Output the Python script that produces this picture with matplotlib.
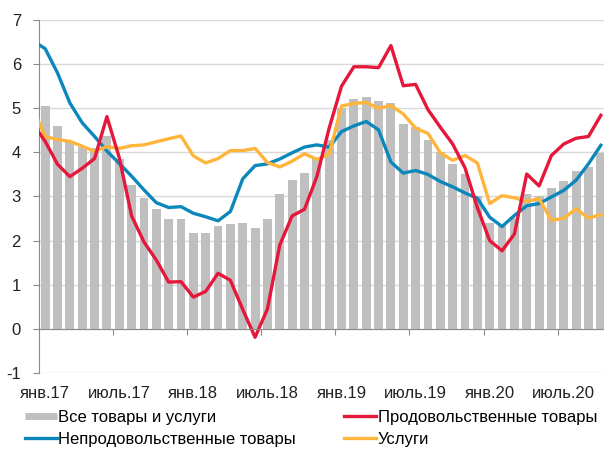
import matplotlib
matplotlib.use("Agg")
import matplotlib.pyplot as plt
import numpy as np
from matplotlib.lines import Line2D

plt.rcParams["font.family"] = ["Liberation Sans", "DejaVu Sans"]
plt.rcParams["axes.unicode_minus"] = False

# monthly categories, Jan 2017 .. Oct 2020
tick_labels = ["янв.17", "июль.17", "янв.18", "июль.18",
               "янв.19", "июль.19", "янв.20", "июль.20"]

# all goods and services (bars), Jan 2017 .. Oct 2020
all_cpi = [5.04, 4.59, 4.25, 4.12, 4.10, 4.36, 3.85, 3.27, 2.96, 2.71, 2.48, 2.49,
           2.17, 2.17, 2.34, 2.38, 2.40, 2.28, 2.49, 3.05, 3.38, 3.53, 3.84, 4.27,
           5.00, 5.22, 5.25, 5.16, 5.12, 4.65, 4.57, 4.29, 4.00, 3.74, 3.51, 3.02,
           2.40, 2.34, 2.52, 3.06, 3.02, 3.20, 3.36, 3.58, 3.66, 3.98]

# lines start one month earlier (Dec 2016), clipped at the axis edge
food = [4.65,
        4.25, 3.73, 3.45, 3.64, 3.86, 4.81, 3.88, 2.56, 1.97, 1.56, 1.06, 1.07,
        0.72, 0.85, 1.26, 1.10, 0.44, -0.19, 0.45, 1.90, 2.56, 2.71, 3.45, 4.55,
        5.50, 5.94, 5.94, 5.92, 6.42, 5.51, 5.54, 4.97, 4.57, 4.19, 3.65, 2.75,
        2.00, 1.77, 2.15, 3.51, 3.24, 3.93, 4.19, 4.32, 4.36, 4.84]
nonfood = [6.53,
           6.35, 5.80, 5.12, 4.67, 4.36, 4.03, 3.75, 3.46, 3.15, 2.86, 2.75, 2.77,
           2.62, 2.54, 2.45, 2.66, 3.40, 3.70, 3.74, 3.85, 3.99, 4.12, 4.17, 4.12,
           4.47, 4.60, 4.70, 4.51, 3.78, 3.53, 3.59, 3.50, 3.34, 3.22, 3.08, 2.96,
           2.53, 2.32, 2.57, 2.79, 2.84, 2.99, 3.14, 3.37, 3.74, 4.16]
services = [5.00,
            4.36, 4.29, 4.25, 4.14, 4.02, 4.13, 4.09, 4.15, 4.17, 4.24, 4.31, 4.37,
            3.92, 3.76, 3.86, 4.04, 4.04, 4.09, 3.77, 3.67, 3.80, 3.97, 3.84, 3.96,
            5.05, 5.11, 5.13, 5.00, 5.06, 4.87, 4.55, 4.43, 3.99, 3.82, 3.93, 3.76,
            2.84, 3.02, 2.97, 2.89, 2.95, 2.46, 2.51, 2.72, 2.51, 2.59]

GRAY = "#bfbfbf"
RED = "#e5173a"
BLUE = "#0b87bb"
ORANGE = "#ffb53c"
AXIS = "#8a8a8a"

x_bar = np.arange(len(all_cpi))
x_line = np.arange(len(food)) - 1

fig = plt.figure(figsize=(6.04, 4.54), dpi=100)
ax = fig.add_axes([39 / 604, 81 / 454, 568 / 604, 353 / 454])

ax.bar(x_bar, all_cpi, width=0.72, color=GRAY, zorder=2)
ax.plot(x_line, nonfood, color=BLUE, lw=2.4, zorder=3)
ax.plot(x_line, services, color=ORANGE, lw=2.4, zorder=4)
ax.plot(x_line, food, color=RED, lw=2.4, zorder=5)

ax.set_xlim(-0.5, len(all_cpi) - 0.5)
ax.set_ylim(-1, 7)

# grid
ax.set_yticks(range(-1, 8))
ax.yaxis.grid(True, color="#d9d9d9", lw=1)
ax.set_axisbelow(True)

for side in ("top", "right"):
    ax.spines[side].set_visible(False)
ax.spines["left"].set_color(AXIS)
ax.spines["bottom"].set_color(AXIS)
ax.spines["bottom"].set_position(("data", 0))
ax.spines["bottom"].set_zorder(6)

ax.tick_params(axis="y", direction="out", length=4, color=AXIS, pad=9,
               labelsize=12, labelcolor="#222222")

# tick marks between categories, labels under the -1 line
ax.set_xticks(np.arange(5.5, len(all_cpi), 6))
ax.set_xticklabels([])
ax.tick_params(axis="x", which="major", direction="out", length=4, color=AXIS)
ax.set_xticks(np.arange(0, len(all_cpi), 6), minor=True)
ax.set_xticklabels(tick_labels, minor=True)
ax.tick_params(axis="x", which="minor", length=0, pad=41, labelsize=12,
               labelcolor="#222222")

handles = [
    Line2D([], [], color=GRAY, lw=5, solid_capstyle="butt"),
    Line2D([], [], color=BLUE, lw=2.4),
    Line2D([], [], color=RED, lw=2.4),
    Line2D([], [], color=ORANGE, lw=2.4),
]
labels = ["Все товары и услуги", "Непродовольственные товары",
          "Продовольственные товары", "Услуги"]
fig.legend(handles, labels, ncol=2, loc="upper left",
           bbox_to_anchor=(25 / 604, 1 - 410 / 454), frameon=False,
           fontsize=12, handlelength=1.9, handletextpad=0.1,
           columnspacing=2.9, labelspacing=0.42, borderpad=0,
           borderaxespad=0)

fig.savefig("out.png", dpi=100)
